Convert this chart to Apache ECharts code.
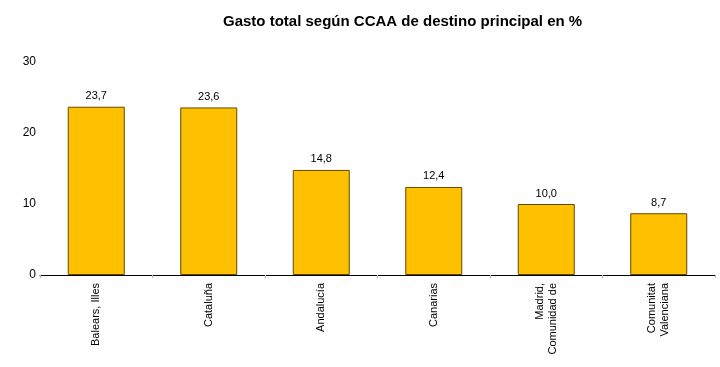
<!DOCTYPE html>
<html><head><meta charset="utf-8">
<script src="https://cdn.jsdelivr.net/npm/echarts@6/dist/echarts.min.js"></script>
<style>html,body{margin:0;padding:0;background:#fff}#c{width:720px;height:367px}</style>
</head><body><div id="c"></div>
<script>
var categories = ["Balears, Illes", "Cataluña", "Andalucía", "Canarias", "Madrid,\nComunidad de", "Comunitat\nValenciana"];
var values = [23.7, 23.6, 14.8, 12.4, 10.0, 8.7];
var yTicks = [0, 10, 20, 30];
var titleText = "Gasto total según CCAA de destino principal en %";

var chart = echarts.init(document.getElementById('c'), null, {renderer: 'canvas'});
chart.setOption({
  animation: false,
  backgroundColor: '#fff',
  title: {
    text: titleText,
    left: 218, top: 9,
    textStyle: {fontFamily: 'Liberation Sans, Arial', fontWeight: 'bold', fontSize: 15, color: '#000'}
  },
  grid: {left: 40, right: 5, top: 62, bottom: 92, containLabel: false},
  xAxis: {
    type: 'category',
    data: categories,
    axisLine: {show: true, lineStyle: {color: '#000', width: 1}},
    axisTick: {show: true, alignWithLabel: false, length: 3, lineStyle: {color: '#bbb'}},
    axisLabel: {
      interval: 0, rotate: 90, margin: 8,
      fontFamily: 'Liberation Sans, Arial', fontSize: 11, color: '#000', lineHeight: 13
    }
  },
  yAxis: {
    type: 'value',
    min: yTicks[0], max: yTicks[yTicks.length - 1], interval: 10,
    axisLine: {show: false},
    axisTick: {show: false},
    splitLine: {show: false},
    axisLabel: {margin: 4, fontFamily: 'Liberation Sans, Arial', fontSize: 12, color: '#000'}
  },
  series: [{
    type: 'bar',
    data: values,
    barWidth: 57,
    itemStyle: {color: '#FFC000', borderColor: '#5f4a00', borderWidth: 1},
    label: {
      show: true, position: 'top', distance: 5,
      fontFamily: 'Liberation Sans, Arial', fontSize: 11, color: '#000',
      formatter: function (p) { return p.value.toFixed(1).replace('.', ','); }
    }
  }]
});
</script></body></html>
